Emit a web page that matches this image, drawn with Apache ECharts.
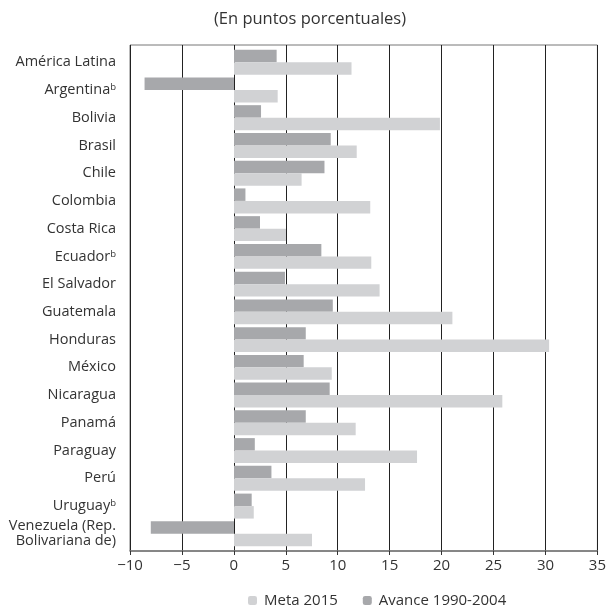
<!DOCTYPE html>
<html><head><meta charset="utf-8">
<script src="https://cdn.jsdelivr.net/npm/echarts@6/dist/echarts.min.js"></script>
<style>html,body{margin:0;padding:0;background:#fff}#c{width:609px;height:606px}</style>
</head><body><div id="c"></div>
<script>
const categories = ['América Latina','Argentina{s|b}','Bolivia','Brasil','Chile','Colombia','Costa Rica','Ecuador{s|b}','El Salvador','Guatemala','Honduras','México','Nicaragua','Panamá','Paraguay','Perú','Uruguay{s|b}','Venezuela (Rep.\nBolivariana de)'];
const avance = [4.1,-8.6,2.6,9.3,8.7,1.1,2.5,8.4,4.9,9.5,6.9,6.7,9.2,6.9,2.0,3.6,1.7,-8.0];
const meta = [11.3,4.2,19.8,11.8,6.5,13.1,5.0,13.2,14.0,21.0,30.3,9.4,25.8,11.7,17.6,12.6,1.9,7.5];
const xTicks = {min:-10, max:35, interval:5};
const FONT = 'Open Sans';
const chart = echarts.init(document.getElementById('c'));
chart.setOption({
  animation:false,
  textStyle:{fontFamily:FONT},
  title:{text:'(En puntos porcentuales)', left:305, top:6, textAlign:'center',
    textStyle:{fontFamily:FONT, fontSize:16.5, fontWeight:'normal', color:'#333'}},
  legend:{top:588, left:243, itemWidth:9, itemHeight:9, itemGap:25,
    data:['Meta 2015','Avance 1990-2004'],
    textStyle:{fontFamily:FONT, fontSize:15, color:'#333', padding:[0,0,0,2]}},
  grid:[
    {left:130, right:11, top:45, bottom:55, show:true, borderColor:'#777', borderWidth:1},
    {left:130, right:11, top:48.3, bottom:58.3}
  ],
  xAxis:[
    {gridIndex:0, type:'value', min:xTicks.min, max:xTicks.max, interval:xTicks.interval,
     axisLine:{show:true, lineStyle:{color:'#777', width:1.5}},
     axisTick:{show:true, length:4, lineStyle:{color:'#333'}},
     splitLine:{show:true, lineStyle:{color:'#222', width:1}},
     axisLabel:{fontFamily:FONT, fontSize:15, color:'#333', margin:7,
       formatter:v=> v<0 ? '\u2212'+Math.abs(v) : String(v)}},
    {gridIndex:1, type:'value', min:xTicks.min, max:xTicks.max, show:false}
  ],
  yAxis:[
    {gridIndex:0, type:'value', min:0, max:1, show:false},
    {gridIndex:1, type:'category', data:categories, inverse:true,
     axisLine:{show:false}, axisTick:{show:false}, splitLine:{show:false},
     axisLabel:{fontFamily:FONT, fontSize:14.5, color:'#333', margin:14, lineHeight:15,
       rich:{s:{fontSize:9.5, verticalAlign:'top', padding:[0,0,7,0], color:'#333', fontFamily:FONT}}}}
  ],
  series:[
    {name:'Avance 1990-2004', type:'bar', xAxisIndex:1, yAxisIndex:1, data:avance,
     itemStyle:{color:'#a7a8ab'}, barGap:'0%', barCategoryGap:'10%'},
    {name:'Meta 2015', type:'bar', xAxisIndex:1, yAxisIndex:1, data:meta,
     itemStyle:{color:'#d1d2d4'}, barGap:'0%', barCategoryGap:'10%'}
  ]
});
</script></body></html>
